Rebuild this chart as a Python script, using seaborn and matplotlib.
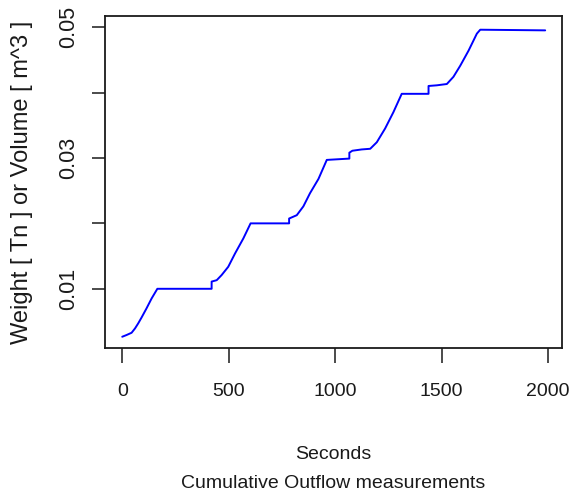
import matplotlib
matplotlib.use("Agg")
import matplotlib.pyplot as plt
from matplotlib import font_manager
import seaborn as sns
import pandas as pd

# Cumulative outflow readings
seconds = [0, 20, 44, 60, 75, 91, 114, 138, 165,
           420, 420, 444, 467, 498, 530, 569, 603,
           784, 784, 820, 851, 882, 922, 961,
           1067, 1067, 1081, 1125, 1165, 1196, 1235, 1274, 1313,
           1439, 1439, 1478, 1525, 1556, 1588, 1627, 1666, 1682, 1987]
volume = [0.00267, 0.00293, 0.00328, 0.00394, 0.00471, 0.00562, 0.00700, 0.00852, 0.0100,
          0.0100, 0.0111, 0.01132, 0.0121, 0.01336, 0.0154, 0.0177, 0.0200,
          0.0200, 0.02074, 0.02125, 0.0226, 0.0246, 0.0268, 0.0297,
          0.0299, 0.0308, 0.0311, 0.0313, 0.0314, 0.0324, 0.0345, 0.0370, 0.0398,
          0.0398, 0.0410, 0.0411, 0.0413, 0.0424, 0.0441, 0.0464, 0.0490, 0.0496, 0.0495]

x_ticks = [0, 500, 1000, 1500, 2000]
x_tick_labels = ["0", "500", "1000", "1500", "2000"]
y_ticks = [0.01, 0.02, 0.03, 0.04, 0.05]
y_tick_labels = ["0.01", "", "0.03", "", "0.05"]

x_label = "Seconds"
sub_label = "Cumulative Outflow measurements"
y_label = "Weight [ Tn ] or Volume [ m^3 ]"

sns.set_theme(style="ticks")
plt.rcParams["font.family"] = ["Liberation Sans", "DejaVu Sans"]
plt.rcParams["axes.edgecolor"] = "#1a1a1a"
plt.rcParams["xtick.color"] = "#1a1a1a"
plt.rcParams["ytick.color"] = "#1a1a1a"

fs_h = 14      # horizontal text
fs_ytick = 15.5
fs_ylab = 17

df = pd.DataFrame({"seconds": seconds, "volume": volume})

fig = plt.figure(figsize=(5.81, 4.99), dpi=100)
ax = fig.add_axes([0.1807, 0.3026, 0.7866, 0.6654])

sns.lineplot(data=df, x="seconds", y="volume", sort=False, estimator=None,
             color="#0000ff", linewidth=1.4, ax=ax)

ax.set_xlim(-81, 2066)
ax.set_ylim(0.00095, 0.0517)

ax.set_xticks(x_ticks)
ax.set_xticklabels(x_tick_labels, fontsize=fs_h, color="#1a1a1a")
ax.set_yticks(y_ticks)
ax.set_yticklabels(y_tick_labels, fontsize=fs_ytick, color="#1a1a1a",
                   rotation=90, va="center")

ax.tick_params(axis="x", length=11, width=1.1, pad=14)
ax.tick_params(axis="y", length=9.5, width=1.1, pad=9)
for s in ax.spines.values():
    s.set_visible(True)
    s.set_linewidth(1.3)

ax.set_xlabel("")
ax.set_ylabel(y_label, fontsize=fs_ylab, color="#1a1a1a")
ax.yaxis.set_label_coords(-0.158, 0.5)

ax.text(0.5, -0.322, x_label, transform=ax.transAxes, ha="center", va="center",
        fontsize=fs_h, color="#1a1a1a")
ax.text(0.5, -0.407, sub_label, transform=ax.transAxes, ha="center", va="center",
        fontsize=fs_h, color="#1a1a1a")

fig.savefig("out.png", dpi=100)
